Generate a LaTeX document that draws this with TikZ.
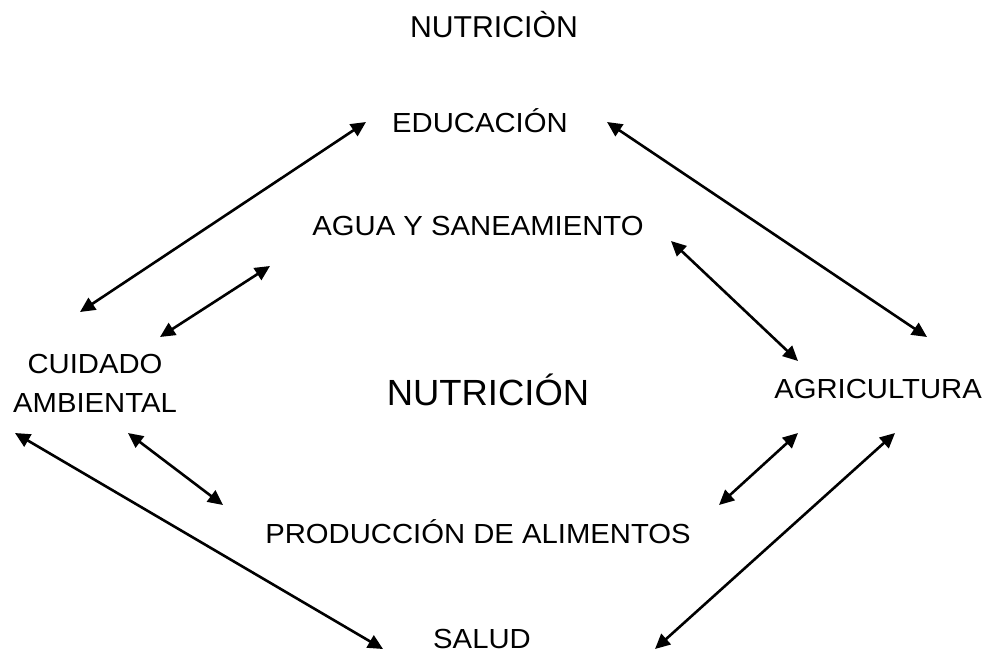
\documentclass[tikz,border=0pt]{standalone}
\usepackage{fontspec}
\setmainfont{Liberation Sans}
\newfontfamily\ancha[FakeStretch=1.06]{Liberation Sans}
\usetikzlibrary{arrows.meta, positioning}

\begin{document}
\begin{tikzpicture}[
                x=0.5pt, y=-0.5pt,
                > = {Triangle[length=7.5pt, width=7pt]}, % arrow head style
                line width=1.3pt, % line style
                every node/.style={inner sep=0pt, anchor=base},
                tema/.style={font=\ancha\fontsize{13.8}{19.5}\selectfont, align=center},
                centro/.style={font=\fontsize{18.2}{22}\selectfont}
                ]
                \useasboundingbox (0,0) rectangle (990,654);

                \node[font=\fontsize{15.1}{19}\selectfont] (titulo) at (494,37) {NUTRICIÒN};
                \node[tema] (edu) at (480,132.5) {EDUCACIÓN};
                \node[tema] (agua) at (478,235) {AGUA Y SANEAMIENTO};
                \node[tema] (cuid) at (95,412) {CUIDADO\\AMBIENTAL};
                \node[centro] (nut) at (488,405.5) {NUTRICIÓN};
                \node[tema] (agri) at (878,398) {AGRICULTURA};
                \node[tema] (prod) at (478,543) {PRODUCCIÓN DE ALIMENTOS};
                \node[tema] (salud) at (482,648) {SALUD};

                % puntas de las flechas
                \coordinate (e1) at (366,122);  \coordinate (c1) at (80,312);
                \coordinate (a1) at (270,266);  \coordinate (c2) at (160,337);
                \coordinate (e2) at (607,122);  \coordinate (g1) at (927,337);
                \coordinate (a2) at (671,241);  \coordinate (g2) at (798,361);
                \coordinate (c3) at (128,433);  \coordinate (p1) at (223,505);
                \coordinate (c4) at (15,433);   \coordinate (s1) at (383,649);
                \coordinate (g3) at (798,433);  \coordinate (p2) at (719,505);
                \coordinate (g4) at (895,433);  \coordinate (s2) at (655,649);

                \draw[<->] (e1) -- (c1);
                \draw[<->] (a1) -- (c2);
                \draw[<->] (e2) -- (g1);
                \draw[<->] (a2) -- (g2);
                \draw[<->] (c3) -- (p1);
                \draw[<->] (c4) -- (s1);
                \draw[<->] (g3) -- (p2);
                \draw[<->] (g4) -- (s2);
            \end{tikzpicture}
\end{document}
